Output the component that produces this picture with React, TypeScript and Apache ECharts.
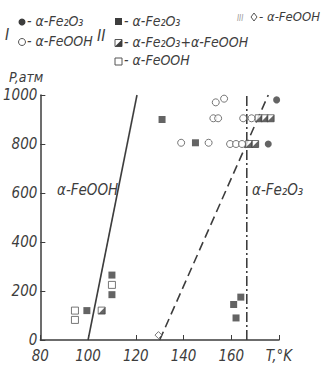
import React, { useEffect, useRef } from "react";
import * as echarts from "echarts";

// ---- data ----
const xMin = 80;
const xMax = 180;
const xStep = 20;
const yMin = 0;
const yMax = 1000;
const yStep = 200;
const xAxisName = "T,°K";
const yAxisName = "P,атм";

// Series I (circles)
const filledCircles: [number, number][] = [
  [175.5, 800],
  [179, 980],
];
const openCircles: [number, number][] = [
  [139, 805],
  [150.5, 805],
  [159.5, 800],
  [162, 800],
  [164.5, 800],
  [152.5, 905],
  [154.5, 905],
  [165, 905],
  [168.5, 905],
  [153.5, 970],
  [157, 985],
];
// Series II (squares)
const filledSquares: [number, number][] = [
  [99.5, 120],
  [110, 265],
  [110, 185],
  [131, 900],
  [145, 805],
  [161, 145],
  [164, 175],
  [162, 90],
];
const halfSquares: [number, number][] = [
  [105.7, 120],
  [167.5, 800],
  [170, 800],
  [171.5, 905],
  [174, 905],
  [176.5, 905],
];
const openSquares: [number, number][] = [
  [94.5, 120],
  [94.5, 82],
  [110, 225],
];
// Series III (diamonds)
const diamonds: [number, number][] = [[129.5, 20]];

// phase boundaries
const feoohBoundary: [number, number][] = [
  [100, 0],
  [120.5, 1000],
];
const dashedBoundary: [number, number][] = [
  [130, 0],
  [175.5, 1000],
];
const fe2o3Boundary: [number, number][] = [
  [166.5, 0],
  [166.5, 1000],
];

const FONT =
  '"Liberation Sans Narrow", "DejaVu Sans Condensed", "Roboto Condensed", Roboto, sans-serif';
const INK = "#3d3d3d";

export default function App() {
  const ref = useRef<HTMLDivElement>(null);
  useEffect(() => {
    if (!ref.current) return;
    const chart = echarts.init(ref.current, null, { renderer: "svg" });
    const txt = (x: number, y: number, t: string, size = 14, fill = INK) => ({
      type: "text",
      left: x,
      top: y,
      style: {
        text: t,
        fill,
        font: `italic ${size}px ${FONT}`,
      },
    });
    const filledStyle = { color: INK };
    const openStyle = { color: "#fff", borderColor: "#555", borderWidth: 1 };
    const lineSeries = (data: [number, number][], type: any) => ({
      type: "line",
      data,
      symbol: "none",
      silent: true,
      z: 1,
      lineStyle: { color: INK, width: 1.6, type },
    });
    const scatter = (data: [number, number][], symbol: string, size: number, style: any, z = 3) => ({
      type: "scatter",
      data,
      symbol,
      symbolSize: size,
      itemStyle: style,
      z,
    });
    chart.setOption({
      animation: false,
      backgroundColor: "#fff",
      grid: { left: 39, right: 45, top: 95, bottom: 26, containLabel: false },
      xAxis: {
        type: "value",
        min: xMin,
        max: xMax,
        interval: xStep,
        axisLine: { lineStyle: { color: INK, width: 1.5 } },
        axisTick: { inside: true, length: 5, lineStyle: { color: INK } },
        splitLine: { show: false },
        axisLabel: {
          color: INK,
          fontSize: 15,
          fontStyle: "italic",
          fontFamily: FONT,
          margin: 8,
          formatter: (v: number) => (v === xMax ? xAxisName : String(v)),
        },
      },
      yAxis: {
        type: "value",
        min: yMin,
        max: yMax,
        interval: yStep,
        axisLine: { show: true, lineStyle: { color: INK, width: 1.5 } },
        axisTick: { show: true, inside: true, length: 5, lineStyle: { color: INK } },
        splitLine: { show: false },
        axisLabel: {
          color: INK,
          fontSize: 15,
          fontStyle: "italic",
          fontFamily: FONT,
          margin: 3,
          formatter: (v: number) => String(v),
        },
      },
      series: [
        lineSeries(feoohBoundary, "solid"),
        lineSeries(dashedBoundary, [9, 5]),
        lineSeries(fe2o3Boundary, [10, 3, 2, 3]),
        scatter(openCircles, "circle", 7, openStyle),
        scatter(filledCircles, "circle", 7, filledStyle),
        scatter(filledSquares, "rect", 7, filledStyle),
        scatter(openSquares, "rect", 7, openStyle),
        scatter(halfSquares, "rect", 7, openStyle),
        scatter(halfSquares, "path://M10,0L10,10L0,10Z", 7, { color: INK }, 4),
        scatter(diamonds, "diamond", 7, openStyle),
      ],
      graphic: [
        // legend group I
        txt(5, 26, "I", 16),
        { type: "circle", shape: { cx: 22, cy: 22, r: 3.5 }, style: { fill: INK } },
        txt(27, 14, "- α-Fe₂O₃"),
        { type: "circle", shape: { cx: 22, cy: 42, r: 3.5 }, style: { fill: "#fff", stroke: "#555", lineWidth: 1 } },
        txt(27, 34, "- α-FeOOH"),
        // legend group II
        txt(97, 27, "II", 16),
        { type: "rect", shape: { x: 115, y: 18, width: 7, height: 7 }, style: { fill: INK } },
        txt(124, 14, "- α-Fe₂O₃"),
        { type: "rect", shape: { x: 115, y: 39.5, width: 7, height: 7 }, style: { fill: "#fff", stroke: "#555", lineWidth: 1 } },
        { type: "polygon", shape: { points: [[122, 39.5], [122, 46.5], [115, 46.5]] }, style: { fill: INK } },
        txt(124, 35, "- α-Fe₂O₃+α-FeOOH"),
        { type: "rect", shape: { x: 115, y: 58, width: 7, height: 7 }, style: { fill: "#fff", stroke: "#555", lineWidth: 1 } },
        txt(124, 53, "- α-FeOOH"),
        // legend group III
        txt(237, 14, "III", 8, "#999"),
        { type: "polygon", shape: { points: [[254, 13], [257, 17], [254, 21], [251, 17]] }, style: { fill: "#fff", stroke: "#555", lineWidth: 1 } },
        txt(259, 10, "- α-FeOOH", 13),
        // axis name
        txt(9, 70, yAxisName, 14),
        // region labels
        txt(57, 182, "α-FeOOH", 15),
        txt(252, 182, "α-Fe₂O₃", 15),
      ],
    });
    return () => chart.dispose();
  }, []);
  return (
    <div
      ref={ref}
      style={{ position: "fixed", left: 0, top: 0, width: 324, height: 366, background: "#fff" }}
    />
  );
}
